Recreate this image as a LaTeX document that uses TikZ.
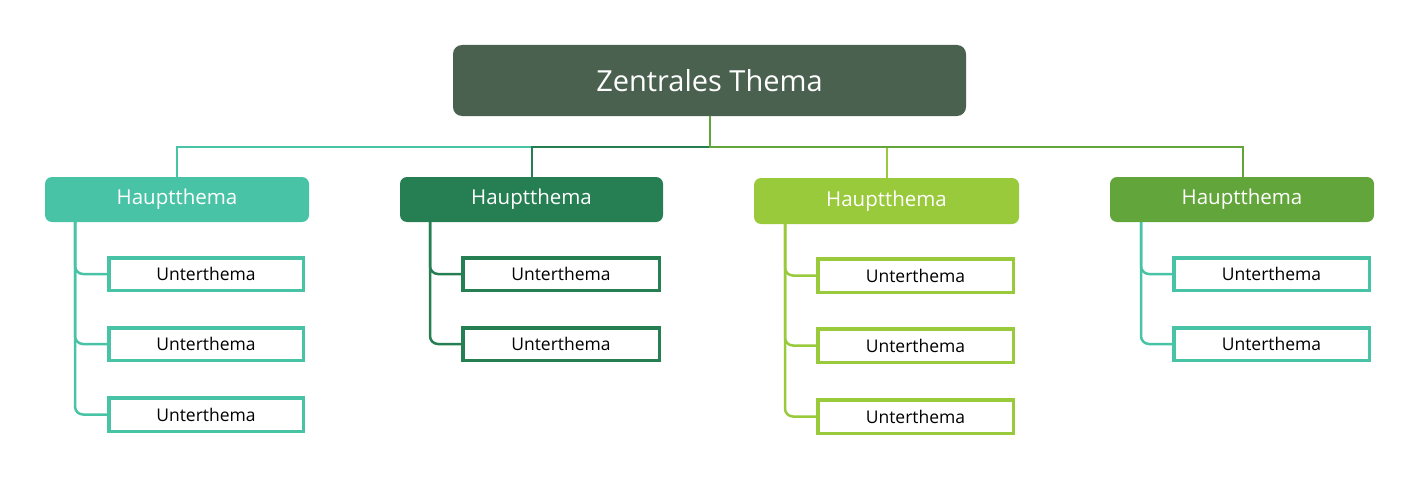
\documentclass[tikz,border=0pt]{standalone}
\usepackage{fontspec}
\setmainfont{Open Sans}
\begin{document}
\begin{tikzpicture}[x=1pt,y=-1pt,
  central/.style={fill=cC,rounded corners=9pt,text=white,font=\fontsize{29}{32}\selectfont},
  mainbox/.style={fill=#1,rounded corners=7pt,text=white,font=\fontsize{20}{24}\selectfont},
  subbox/.style={draw=#1,line width=3.5pt,fill=white,font=\fontsize{17.5}{20}\selectfont},
  link/.style={draw=#1,line width=2.5pt},
  sublink/.style={draw=#1,line width=2.5pt,rounded corners=8pt}]
\definecolor{cC}{HTML}{4A6150}
\definecolor{cA}{HTML}{48C3A5}
\definecolor{cB}{HTML}{267F53}
\definecolor{cD}{HTML}{99CA3C}
\definecolor{cE}{HTML}{62A53A}
\useasboundingbox (0,0) rectangle (1420,495);
\path[central] (453,45) rectangle (966,116);
\node (c) at (709.5,81) [central,fill=none] {Zentrales Thema};
\coordinate (cb) at (710,116);
\newcommand\mk[6]{% name, x1,y1,x2,y2,color
  \path[mainbox=#6] (#2,#3) rectangle (#4,#5);
  \node (#1) at ({(#2+#4)/2},{(#3+#5)/2}) [text=white,font=\fontsize{20.5}{24}\selectfont] {Hauptthema};}
\draw[link=cA] (cb) |- (177,147) -- (177,177);
\draw[link=cB] (cb) |- (532,147) -- (532,177);
\draw[link=cD] (cb) |- (887,147) -- (887,178);
\draw[link=cE] (cb) |- (1243,147) -- (1243,177);
\mk{m1}{45}{177}{309}{222}{cA}
\mk{m2}{400}{177}{663}{222}{cB}
\mk{m3}{754}{178}{1019}{224}{cD}
\mk{m4}{1110}{177}{1374}{222}{cE}
\newcommand\sk[6]{% name, x1,y1,x2,y2,color
  \node (#1) [subbox=#6,minimum width={#4-#2-3.5},minimum height={#5-#3-3.5},inner sep=0pt] at ({(#2+#4)/2},{(#3+#5)/2}) {Unterthema};}
% branch 1
\coordinate (b1) at (75,222);
\draw[sublink=cA] (b1) |- (107,414.5);
\draw[sublink=cA] (b1) |- (107,344);
\draw[sublink=cA] (b1) |- (107,274);
\sk{s11}{107}{256}{305}{292}{cA}
\sk{s12}{107}{326}{305}{362}{cA}
\sk{s13}{107}{396}{305}{433}{cA}
% branch 2
\coordinate (b2) at (430,222);
\draw[sublink=cB] (b2) |- (461,344);
\draw[sublink=cB] (b2) |- (461,274);
\sk{s21}{461}{256}{661}{292}{cB}
\sk{s22}{461}{326}{661}{362}{cB}
% branch 3
\coordinate (b3) at (785,224);
\draw[sublink=cD] (b3) |- (816,416.5);
\draw[sublink=cD] (b3) |- (816,345.5);
\draw[sublink=cD] (b3) |- (816,275.5);
\sk{s31}{816}{257}{1015}{294}{cD}
\sk{s32}{816}{327}{1015}{364}{cD}
\sk{s33}{816}{398}{1015}{435}{cD}
% branch 4
\coordinate (b4) at (1141,222);
\draw[sublink=cA] (b4) |- (1172,344);
\draw[sublink=cA] (b4) |- (1172,274);
\sk{s41}{1172}{256}{1371}{292}{cA}
\sk{s42}{1172}{326}{1371}{362}{cA}
\end{tikzpicture}
\end{document}
